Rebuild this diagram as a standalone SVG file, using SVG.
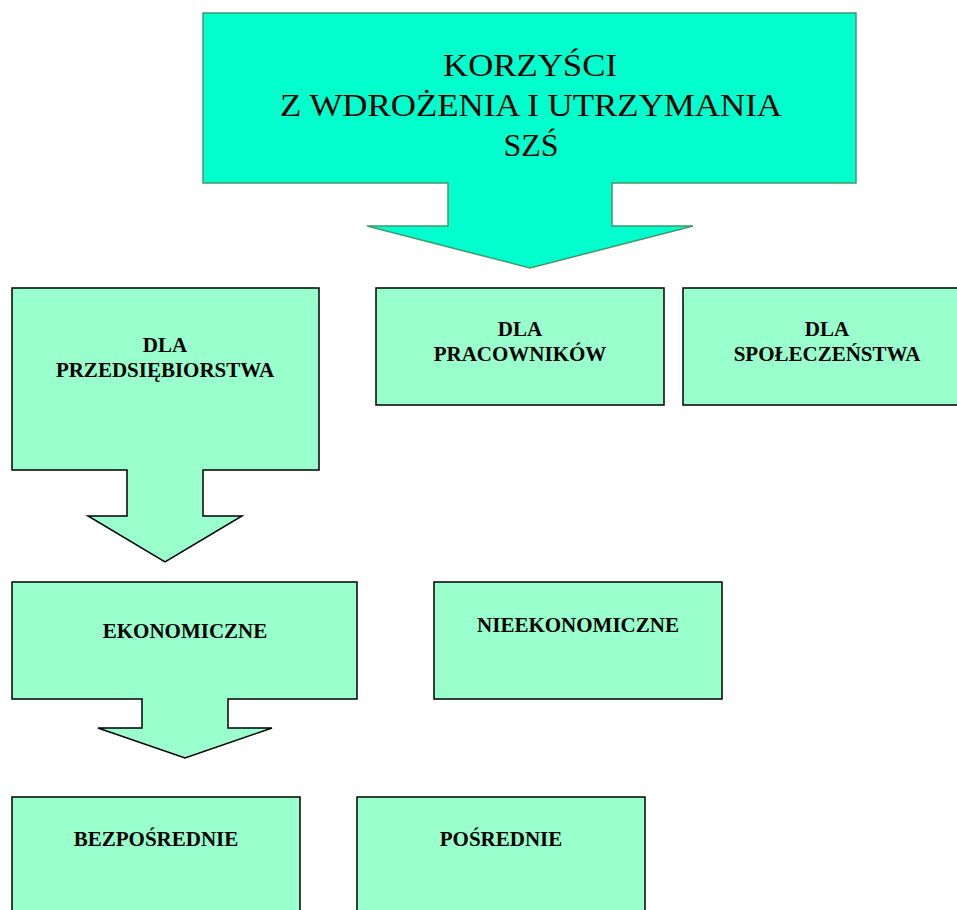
<svg xmlns="http://www.w3.org/2000/svg" width="957" height="910" viewBox="0 0 957 910">
<style>
.top{fill:#00ffcc;stroke:#3f9a6c;stroke-width:1.5}
.box{fill:#99ffcc;stroke:#000;stroke-width:1.5}
.title{font-family:"Liberation Serif","Times New Roman",serif;font-size:32px;fill:#000;text-anchor:middle}
.lbl{font-family:"Liberation Serif","Times New Roman",serif;font-size:21px;font-weight:bold;fill:#000;text-anchor:middle}
</style>
<rect width="957" height="910" fill="#fff"/>
<g id="korzysci">
<path class="top" d="M203,13 H856 V183 H612 V226 H693 L530,268 L367,226 H448 V183 H203 Z"/>
<text class="title" x="530" y="76" textLength="174" lengthAdjust="spacingAndGlyphs">KORZYŚCI</text>
<text class="title" x="531" y="116" textLength="502" lengthAdjust="spacingAndGlyphs">Z WDROŻENIA I UTRZYMANIA</text>
<text class="title" x="531" y="156">SZŚ</text>
</g>
<g id="przedsiebiorstwa">
<path class="box" d="M12,288 H319 V470 H203 V516 H242 L165,562 L88,516 H127 V470 H12 Z"/>
<text class="lbl" x="165" y="352">DLA</text>
<text class="lbl" x="165" y="377">PRZEDSIĘBIORSTWA</text>
</g>
<g id="pracownikow">
<rect class="box" x="376" y="288" width="288" height="117"/>
<text class="lbl" x="520" y="336">DLA</text>
<text class="lbl" x="520" y="361">PRACOWNIKÓW</text>
</g>
<g id="spoleczenstwa">
<rect class="box" x="683" y="288" width="290" height="117"/>
<text class="lbl" x="827" y="336">DLA</text>
<text class="lbl" x="827" y="361">SPOŁECZEŃSTWA</text>
</g>
<g id="ekonomiczne">
<path class="box" d="M12,582 H357 V699 H228 V728 H272 L185,758 L98,728 H142 V699 H12 Z"/>
<text class="lbl" x="185" y="638">EKONOMICZNE</text>
</g>
<g id="nieekonomiczne">
<rect class="box" x="434" y="582" width="288" height="117"/>
<text class="lbl" x="578" y="632">NIEEKONOMICZNE</text>
</g>
<g id="bezposrednie">
<rect class="box" x="12" y="797" width="288" height="130"/>
<text class="lbl" x="156" y="846">BEZPOŚREDNIE</text>
</g>
<g id="posrednie">
<rect class="box" x="357" y="797" width="288" height="130"/>
<text class="lbl" x="501" y="846">POŚREDNIE</text>
</g>
<g id="connectors"></g>
</svg>
